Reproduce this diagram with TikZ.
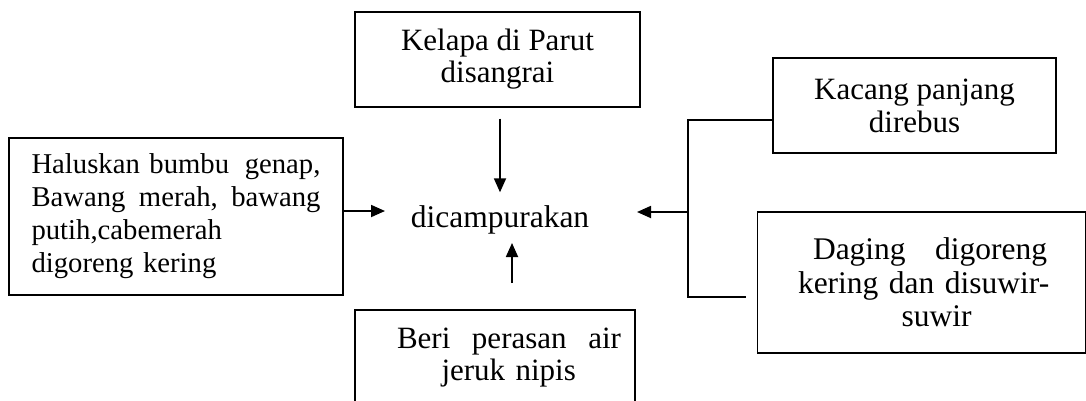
\documentclass[tikz,border=0pt]{standalone}
\usepackage{fontspec}
\setmainfont{Liberation Serif}
\usetikzlibrary{arrows.meta}
\begin{document}
\begin{tikzpicture}[x=1pt,y=-1pt,
  box/.style={draw, line width=1.3pt, rectangle, inner sep=0pt, align=center},
  arr/.style={line width=1.8pt, -{Triangle[length=14pt,width=12pt]}},
  ln/.style={line width=1.5pt}]
\path[use as bounding box] (0,0) rectangle (1086,400);
\clip (0,0) rectangle (1086,400);
% boxes
\node[box, minimum width=285pt, minimum height=95pt, font=\fontsize{31}{32}\selectfont]
  (top) at (497.5,59.4) {Kelapa di Parut\\disangrai};
\node[box, minimum width=334pt, minimum height=157pt, text width=289pt, align=left,
  font=\fontsize{28.7}{33}\selectfont]
  (left) at (176,216.5) {\makebox[289pt]{Haluskan bumbu\hfill genap,}\\
  \makebox[289pt]{Bawang\hfill merah,\hfill bawang}\\ \mbox{putih,cabemerah}\\ \mbox{digoreng kering}};
\node[inner sep=0pt, font=\fontsize{31.5}{32}\selectfont] (mix) at (500,219.8) {dicampurakan};
\node[box, minimum width=283pt, minimum height=95pt, font=\fontsize{31}{33}\selectfont]
  (kac) at (914.5,105.5) {Kacang panjang\\direbus};
\node[box, minimum width=328pt, minimum height=141pt, text width=260pt, align=left,
  font=\fontsize{31.5}{33.5}\selectfont]
  (dag) at (921.5,282.5) {\hspace*{21.5pt}\makebox[234pt]{Daging\hfill digoreng}\\
  \hspace*{6.5pt}\mbox{kering dan disuwir-}\\\hspace*{110pt}\mbox{suwir}};
\node[box, minimum width=280pt, minimum height=96pt, text width=260pt, align=left,
  font=\fontsize{31}{32}\selectfont]
  (bot) at (495,358) {\hspace*{32pt}\makebox[224pt]{Beri\hfill perasan\hfill air}\\
  \hspace*{76.5pt}\mbox{jeruk nipis}};
% connector coordinates
\coordinate (lt) at (385,211);
\coordinate (upfoot) at (512,283);
\coordinate (uptip) at (512,243);
\coordinate (j) at (688,212);
\coordinate (rt) at (637,212);
\coordinate (k1) at (688,120);
\coordinate (d1) at (688,297);
\coordinate (d2) at (746,297);
% connectors
\draw[arr, shorten <=11pt, shorten >=13pt] (mix.north |- top.south) -- (mix.north);
\draw[arr] (lt -| left.east) -- (lt);
\draw[arr] (upfoot) -- (uptip);
\draw[ln] (kac.west |- k1) -- (k1) -- (d1) -- (d2);
\draw[arr] (j) -- (rt);
\end{tikzpicture}
\end{document}
